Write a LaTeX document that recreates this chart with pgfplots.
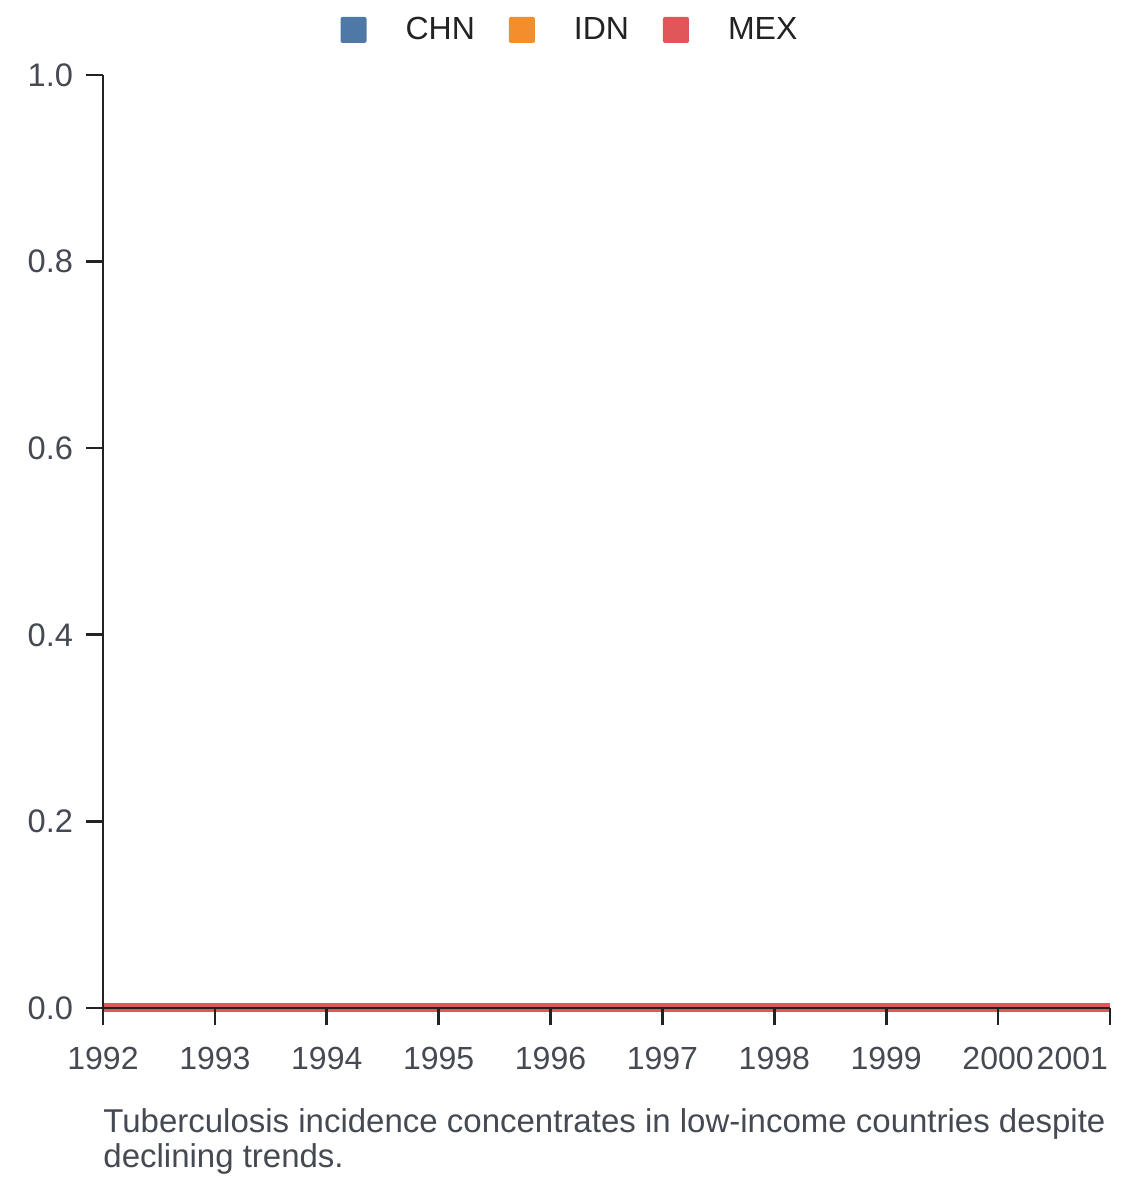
\documentclass[border=0pt]{standalone}
\usepackage{pgfplots}
\pgfplotsset{compat=1.18}
\usepackage{fontspec}
\setmainfont{Liberation Sans}
\definecolor{cchn}{HTML}{4E79A7}
\definecolor{cidn}{HTML}{F28E2B}
\definecolor{cmex}{HTML}{E15759}
\definecolor{txt}{HTML}{454A52}
\definecolor{axc}{HTML}{222222}
\begin{document}
\begin{tikzpicture}[x=1pt,y=1pt]
\useasboundingbox (0,0) rectangle (570,591);
\begin{axis}[
  at={(51.5pt,87pt)}, anchor=south west,
  scale only axis, width=503.5pt, height=466.5pt,
  xmin=1992, xmax=2001, ymin=0, ymax=1,
  axis x line*=bottom, axis y line*=left,
  axis line style={axc, line width=1.3pt, -},
  axis on top, clip=false,
  xtick={1992,1993,...,2000},
  extra x ticks={2001},
  extra x tick style={xticklabel style={anchor=north east, xshift=2.5pt}},
  ytick={0,0.2,0.4,0.6,0.8,1.0},
  tick align=outside,
  major tick length=8.5pt,
  tick style={axc, line width=1.3pt},
  x tick label style={/pgf/number format/1000 sep={}, font=\fontsize{16}{19}\selectfont, text=txt, yshift=-7.5pt},
  y tick label style={/pgf/number format/.cd, fixed, fixed zerofill, precision=1, /tikz/.cd, font=\fontsize{16.3}{19}\selectfont, text=txt, xshift=-3pt},
  /pgf/number format/assume math mode=true,
  legend columns=3,
  legend style={at={(0.4647,1.0483)}, anchor=center, draw=none, fill=none,
    font=\fontsize{16}{19}\selectfont, text=axc,
    /tikz/every even column/.append style={column sep=15pt}},
  legend cell align=left,
  legend image code/.code={\fill[#1, draw=none, rounded corners=1pt] (0pt,-6.5pt) rectangle (13pt,6.5pt); \path[draw=none, fill=none] (0pt,0pt) -- (30.5pt,0pt);},
]
\addplot[draw=cchn, fill=cchn, line width=1.5pt] coordinates {(1992,0) (1993,0) (1994,0) (1995,0) (1996,0) (1997,0) (1998,0) (1999,0) (2000,0) (2001,0)};
\addlegendentry{CHN}
\addplot[draw=cidn, fill=cidn, line width=1.5pt] coordinates {(1992,0) (1993,0) (1994,0) (1995,0) (1996,0) (1997,0) (1998,0) (1999,0) (2000,0) (2001,0)};
\addlegendentry{IDN}
\addplot[draw=cmex, fill=cmex, line width=4.5pt] coordinates {(1992,0) (1993,0) (1994,0) (1995,0) (1996,0) (1997,0) (1998,0) (1999,0) (2000,0) (2001,0)};
\addlegendentry{MEX}
\end{axis}
\node[anchor=north west, align=left, inner sep=0pt, text=txt, font=\fontsize{16.5}{17.5}\selectfont] at (51.5,37) {Tuberculosis incidence concentrates in low-income countries despite\\declining trends.};
\end{tikzpicture}
\end{document}
